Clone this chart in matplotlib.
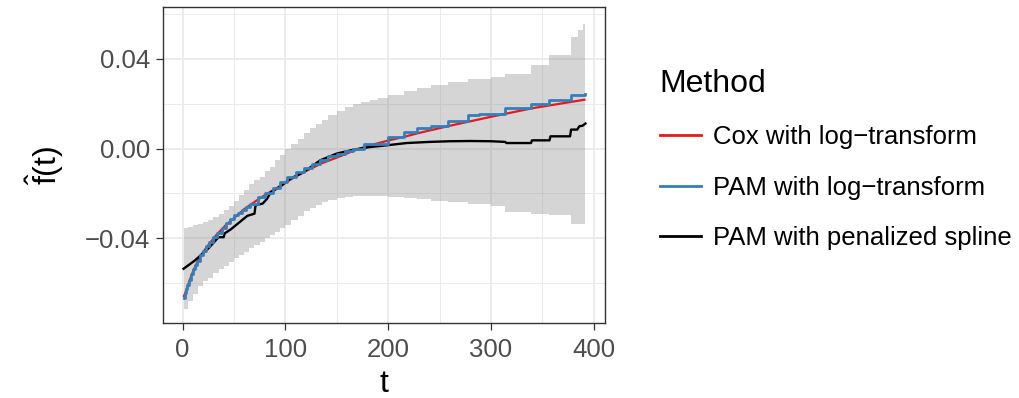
import matplotlib
matplotlib.use("Agg")
from matplotlib import pyplot as plt
from matplotlib.lines import Line2D

# Cox model with log-transform (smooth)
cox_t = [1, 3, 6, 10, 15, 20, 26, 33, 42, 50, 60, 75, 90, 105, 120, 135,
         150, 165, 180, 200, 215, 230, 260, 300, 340, 392]
cox_f = [-0.0662, -0.064, -0.060, -0.055, -0.050, -0.0462, -0.0425, -0.0385,
         -0.0342, -0.0310, -0.0270, -0.0222, -0.0180, -0.0138, -0.0100,
         -0.0066, -0.0040, -0.0012, 0.0012, 0.0036, 0.0052, 0.0070, 0.0102,
         0.0142, 0.0180, 0.0219]

# PAM with log-transform (step function)
pam_log_t = [1, 2, 3, 4, 6, 8, 10, 12, 14, 17, 20, 23, 26, 30, 34, 38, 42,
             46, 50, 54, 58, 62, 66, 73, 80, 88, 95, 102, 110, 118, 126, 134,
             142, 150, 158, 166, 177, 200, 215, 228, 242, 258, 278, 288, 314,
             339, 357, 378, 392]
pam_log_f = [-0.0665, -0.0645, -0.0628, -0.061, -0.0585, -0.056, -0.0537,
             -0.0518, -0.050, -0.0476, -0.0455, -0.0436, -0.0418, -0.0395,
             -0.0375, -0.0355, -0.0330, -0.0312, -0.0297, -0.0285, -0.0275,
             -0.0260, -0.0245, -0.0214, -0.0198, -0.0174, -0.0150, -0.0128,
             -0.0106, -0.0086, -0.0068, -0.0050, -0.0035, -0.0022, -0.0010,
             0.0, 0.0020, 0.0052, 0.0074, 0.0091, 0.0103, 0.0122, 0.0150,
             0.0155, 0.0180, 0.0199, 0.0218, 0.0238, 0.0242]

# PAM with penalized spline
pam_ps_t = [1, 12, 25, 35, 40, 41, 47, 55, 63, 70, 71, 78, 82, 86, 95, 105,
            118, 126, 134, 150, 166, 182, 199, 218, 240, 260, 280, 300, 314,
            315, 339, 340, 357, 358, 377, 378, 384, 386, 389, 392]
pam_ps_f = [-0.0536, -0.0499, -0.0446, -0.0395, -0.0395, -0.0378, -0.036,
            -0.033, -0.030, -0.029, -0.0253, -0.0245, -0.0225, -0.0194,
            -0.0170, -0.0134, -0.0104, -0.0078, -0.0052, -0.0022, -0.0005,
            0.0007, 0.0015, 0.0025, 0.0030, 0.0033, 0.0034, 0.0033, 0.0030,
            0.0025, 0.0025, 0.0037, 0.0037, 0.0055, 0.0055, 0.0085, 0.0085,
            0.010, 0.0102, 0.0112]

# confidence band of the penalized spline
band_t = [1, 5, 10, 15, 20, 25, 30, 35, 40, 45, 50, 55, 60, 65, 70, 75, 80,
          85, 90, 95, 100, 106, 112, 118, 124, 130, 136, 142, 150, 158, 166,
          174, 182, 190, 200, 215, 228, 242, 258, 278, 300, 314, 339, 357,
          378, 385, 390, 392]
band_hi = [-0.0355, -0.035, -0.0342, -0.0335, -0.0328, -0.032, -0.0305,
           -0.029, -0.0272, -0.0255, -0.0235, -0.0205, -0.0185, -0.016,
           -0.014, -0.0125, -0.010, -0.008, -0.005, -0.003, 0.0, 0.002,
           0.0045, 0.007, 0.009, 0.011, 0.013, 0.0148, 0.017, 0.0186, 0.0198,
           0.0208, 0.0218, 0.0228, 0.0238, 0.0255, 0.027, 0.0285, 0.0298,
           0.031, 0.032, 0.0335, 0.0372, 0.0417, 0.05, 0.0528, 0.0558, 0.0558]
band_lo = [-0.0714, -0.068, -0.065, -0.0615, -0.059, -0.0575, -0.0555,
           -0.0535, -0.0522, -0.0505, -0.049, -0.0475, -0.046, -0.0445,
           -0.043, -0.0415, -0.040, -0.0385, -0.037, -0.0355, -0.034, -0.032,
           -0.030, -0.028, -0.0265, -0.025, -0.0238, -0.0228, -0.022,
           -0.0215, -0.0213, -0.0212, -0.0212, -0.0213, -0.0215, -0.022,
           -0.0226, -0.0232, -0.024, -0.0248, -0.0258, -0.0283, -0.0293,
           -0.0298, -0.0335, -0.0335, -0.0338, -0.0338]

labels = ["Cox with log\u2212transform", "PAM with log\u2212transform",
          "PAM with penalized spline"]
colors = ["#E41A1C", "#377EB8", "black"]

plt.rcParams.update({
    "font.family": "Liberation Sans",
    "mathtext.fontset": "custom",
    "mathtext.rm": "Liberation Sans",
    "mathtext.it": "Liberation Sans",
})

fig = plt.figure(figsize=(10.19, 3.98), dpi=100)
ax = fig.add_axes([163 / 1019, 1 - 323 / 398, 442 / 1019, 316 / 398])

ax.fill_between(band_t, band_lo, band_hi, step="post", color="#7F7F7F",
                alpha=0.32, linewidth=0)
ax.plot(cox_t, cox_f, color=colors[0], lw=1.6, solid_capstyle="butt")
ax.plot(pam_ps_t, pam_ps_f, color=colors[2], lw=1.7)
ax.plot(pam_log_t, pam_log_f, color=colors[1], lw=2.0, drawstyle="steps-post")

ax.set_xlim(-19, 411)
ax.set_ylim(-0.0778, 0.0632)
ax.set_xticks([0, 100, 200, 300, 400])
ax.set_xticks([50, 150, 250, 350], minor=True)
ax.set_yticks([-0.04, 0.0, 0.04])
ax.set_yticklabels(["\u22120.04", "0.00", "0.04"])
ax.set_yticks([-0.06, -0.02, 0.02, 0.06], minor=True)

ax.set_axisbelow(True)
ax.grid(which="major", color="#EBEBEB", lw=1.3)
ax.grid(which="minor", color="#EBEBEB", lw=0.7)
ax.tick_params(which="major", length=5, width=0.9, color="#333333",
               labelsize=18.5, labelcolor="#4D4D4D", pad=4)
ax.tick_params(axis="x", which="major", pad=6)
ax.tick_params(which="minor", length=0)
for s in ax.spines.values():
    s.set_color("#333333")
    s.set_linewidth(1.0)

ax.set_xlabel("t", fontsize=23, labelpad=5)
ax.set_ylabel(r"$\hat{\mathrm{f}}\mathrm{(t)}$", fontsize=23, labelpad=14)

handles = [Line2D([], [], color=c, lw=2) for c in colors]
leg = fig.legend(handles, labels, title="Method", loc="upper left",
                 bbox_to_anchor=(647 / 1019, 1 - 56 / 398), frameon=False,
                 fontsize=18.5, title_fontsize=23, handlelength=1.6,
                 handletextpad=0.45, labelspacing=1.03, borderpad=0,
                 alignment="left")

fig.savefig("out.png", dpi=100)
